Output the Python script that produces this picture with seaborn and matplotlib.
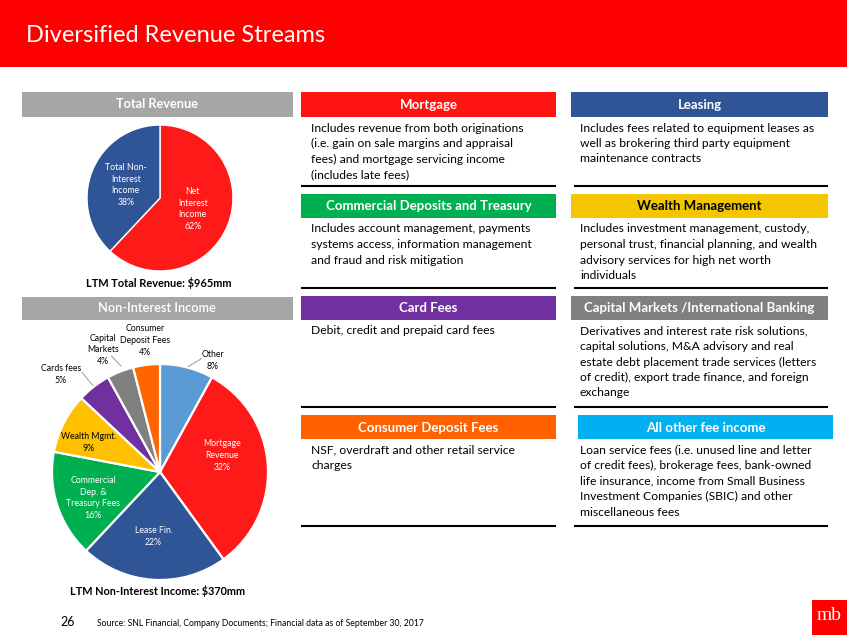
import matplotlib
matplotlib.use("Agg")
import matplotlib.pyplot as plt
from matplotlib.patches import Rectangle
import seaborn as sns

# ---------------- data ----------------
total_labels = ["Net\nInterest\nIncome", "Total Non-\nInterest\nIncome"]
total_values = [62, 38]
total_colors = ["#FF1A1A", "#2F5597"]

nii_labels = ["Other", "Mortgage\nRevenue", "Lease Fin.", "Commercial\nDep. &\nTreasury Fees",
              "Wealth Mgmt.", "Cards fees", "Capital\nMarkets", "Consumer\nDeposit Fees"]
nii_values = [8, 32, 22, 16, 9, 5, 4, 4]
nii_colors = ["#5B9BD5", "#FF1A1A", "#2F5597", "#00B050", "#FFC000", "#7030A0", "#808080", "#FF6600"]

title = "Diversified Revenue Streams"
ltm_total = "LTM Total Revenue: $965mm"
ltm_nii = "LTM Non-Interest Income: $370mm"
footer_page = "26"
footer_source = "Source: SNL Financial, Company Documents; Financial data as of September 30, 2017"

box_titles = ["Mortgage", "Leasing", "Commercial Deposits and Treasury", "Wealth Management",
              "Card Fees", "Capital Markets /International Banking", "Consumer Deposit Fees",
              "All other fee income"]
box_colors = ["#FF1414", "#2F5597", "#00B050", "#F4C600", "#7030A0", "#808080", "#FF6000", "#00B0F0"]
box_title_colors = ["white", "white", "white", "black", "white", "white", "white", "white"]
box_texts = [
    ["Includes revenue from both originations", "(i.e. gain on sale margins and appraisal",
     "fees) and mortgage servicing income", "(includes late fees)"],
    ["Includes fees related to equipment leases as", "well as brokering third party equipment",
     "maintenance contracts"],
    ["Includes account management, payments", "systems access, information management",
     "and fraud and risk mitigation"],
    ["Includes investment management, custody,", "personal trust, financial planning, and wealth",
     "advisory services for high net worth", "individuals"],
    ["Debit, credit and prepaid card fees"],
    ["Derivatives and interest rate risk solutions,", "capital solutions, M&A advisory and real",
     "estate debt placement trade services (letters", "of credit), export trade finance, and foreign",
     "exchange"],
    ["NSF, overdraft and other retail service", "charges"],
    ["Loan service fees (i.e. unused line and letter", "of credit fees), brokerage fees, bank-owned",
     "life insurance, income from Small Business", "Investment Companies (SBIC) and other",
     "miscellaneous fees"],
]

# ---------------- style ----------------
sns.set_theme(style="white")
plt.rcParams["font.family"] = ["Lato", "DejaVu Sans"]

W, H = 847, 635
fig = plt.figure(figsize=(W / 100, H / 100), dpi=100)
bg = fig.add_axes([0, 0, 1, 1])
bg.set_xlim(0, W)
bg.set_ylim(H, 0)
bg.axis("off")

# title bar
bg.add_patch(Rectangle((0, 0), W, 67, color="#FF0000", lw=0))
bg.text(26, 35, title, color="white", fontsize=17, va="center", ha="left")

# left gray headers
for y0, y1, txt, wt, fs in [(92, 117, "Total Revenue", "bold", 9.2),
                            (297, 320, "Non-Interest Income", "semibold", 9.2)]:
    bg.add_patch(Rectangle((22, y0), 271, y1 - y0, color="#A6A6A6", lw=0))
    bg.text(157, (y0 + y1) / 2, txt, color="white", fontsize=fs, fontweight=wt, ha="center", va="center")

bg.text(159, 283, ltm_total, fontsize=7.9, fontweight="bold", ha="center", va="center", color="black")
bg.text(158, 591, ltm_nii, fontsize=7.8, fontweight="bold", ha="center", va="center", color="black")

# right boxes
row_hdr = [(92, 117), (194, 218), (296, 320), (415, 439)]
row_sep_bot = [186, 288, 407, 526]
col_hdr = [(301, 556), (571, 828)]
col_text_x = [311, 580]
line_h = 15.5
for i, (t, c, tc, lines) in enumerate(zip(box_titles, box_colors, box_title_colors, box_texts)):
    r, col = divmod(i, 2)
    y0, y1 = row_hdr[r]
    x0, x1 = col_hdr[col]
    if i == 7:
        x0, x1 = 578, 833
    bg.add_patch(Rectangle((x0, y0), x1 - x0, y1 - y0, color=c, lw=0))
    bg.text((x0 + x1) / 2, (y0 + y1) / 2 + 0.5, t, color=tc, fontsize=9.5, fontweight="bold",
            ha="center", va="center")
    for k, ln in enumerate(lines):
        bg.text(col_text_x[col], y1 + 11 + k * line_h, ln, fontsize=8.7, color="black",
                ha="left", va="center")
    sx0, sx1 = (301, 556) if col == 0 else (574, 828)
    bg.plot([sx0, sx1], [row_sep_bot[r], row_sep_bot[r]], color="black", lw=1.5, solid_capstyle="butt")

# footer
bg.text(68, 622, footer_page, fontsize=9, ha="center", va="center", color="black")
bg.text(97, 624, footer_source, fontsize=6.2, ha="left", va="center", color="black")
bg.add_patch(Rectangle((812, 600), 35, 35, color="#FF0000", lw=0))
bg.text(829.5, 616, "mb", fontsize=14, color="white", ha="center", va="center",
        family="Liberation Serif")


def pie_axes(cx, cy, r):
    return fig.add_axes([(cx - r) / W, (H - cy - r) / H, 2 * r / W, 2 * r / H])


# Total revenue pie
ax1 = pie_axes(160, 198, 73)
ax1.pie(total_values, colors=sns.color_palette(total_colors), startangle=90, counterclock=False,
        radius=1, wedgeprops=dict(edgecolor="white", linewidth=1))
ax1.set_xlim(-1, 1)
ax1.set_ylim(-1, 1)
ax1.axis("off")
pie1_pos = [(0.45, -0.15), (-0.47, 0.18)]
for lab, v, (px, py) in zip(total_labels, total_values, pie1_pos):
    ax1.text(px, py, f"{lab}\n{v}%", color="white", fontsize=6.3, ha="center", va="center",
             linespacing=1.35)

# Non-interest income pie
ax2 = pie_axes(160, 472, 108)
ax2.pie(nii_values, colors=sns.color_palette(nii_colors), startangle=90, counterclock=False,
        radius=1, wedgeprops=dict(edgecolor="white", linewidth=1.6))
ax2.set_xlim(-1, 1)
ax2.set_ylim(-1, 1)
ax2.axis("off")
pie2_pos = [(0.49, 1.03), (0.575, 0.155), (-0.06, -0.60), (-0.62, -0.24),
            (-0.66, 0.27), (-0.92, 0.90), (-0.525, 1.13), (-0.14, 1.215)]
pie2_col = ["black", "white", "white", "white", "black", "black", "black", "black"]
for lab, v, (px, py), c in zip(nii_labels, nii_values, pie2_pos, pie2_col):
    ax2.text(px, py, f"{lab}\n{v}%", color=c, fontsize=6.3, ha="center", va="center",
             linespacing=1.4)
# leader lines
for (xa, ya), (xb, yb) in [((0.26, 0.975), (0.385, 1.05)),
                           ((-0.725, 0.925), (-0.62, 0.80)),
                           ((-0.45, 1.075), (-0.36, 0.98))]:
    ax2.plot([xa, xb], [ya, yb], color="#A6A6A6", lw=0.8, clip_on=False)

fig.savefig("out.png", dpi=100)
